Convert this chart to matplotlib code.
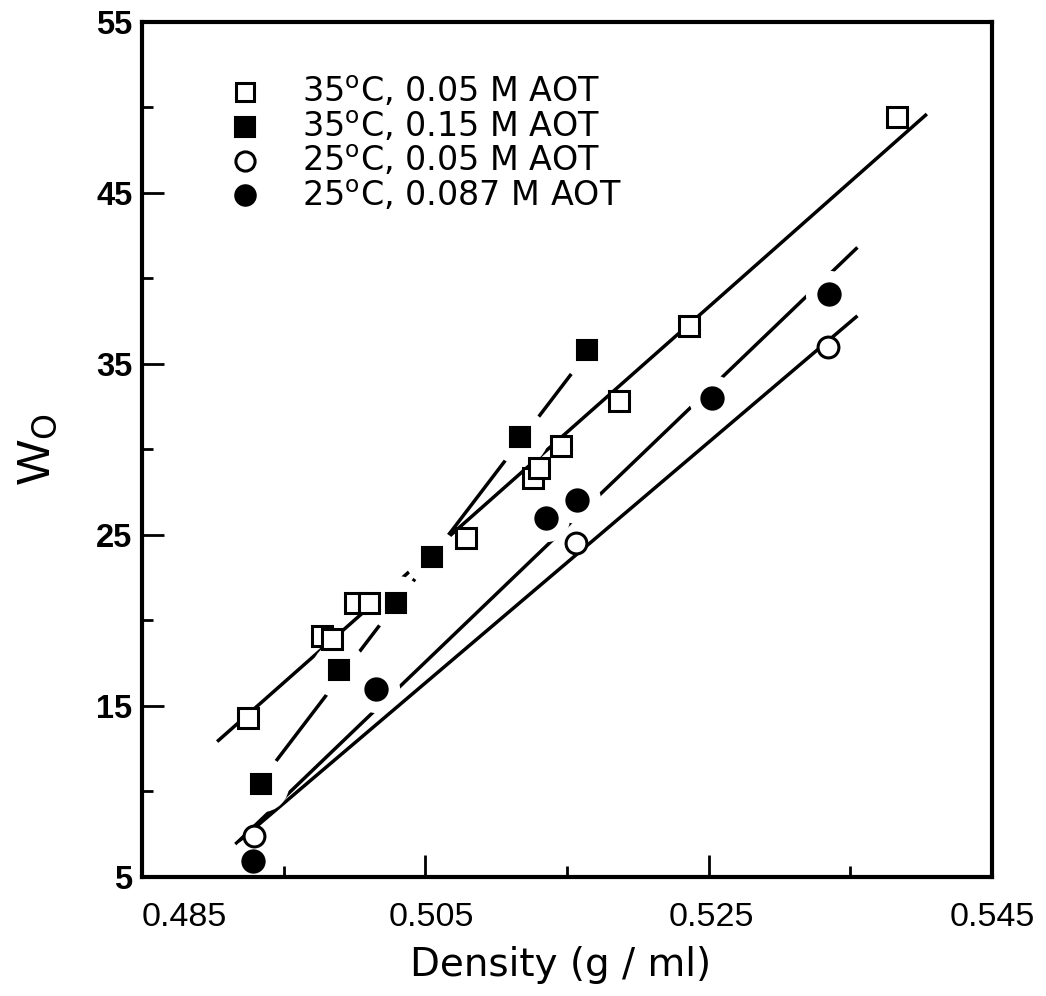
import matplotlib
matplotlib.use("Agg")
import matplotlib.pyplot as plt
import matplotlib.transforms as mtransforms

plt.rcParams['font.family'] = ['Liberation Sans', 'DejaVu Sans']
plt.rcParams['mathtext.fontset'] = 'custom'
plt.rcParams['mathtext.rm'] = 'DejaVu Sans'
plt.rcParams['mathtext.it'] = 'DejaVu Sans:italic'

# data
labels = [r'35$^{\mathrm{o}}$C, 0.05 M AOT', r'35$^{\mathrm{o}}$C, 0.15 M AOT',
          r'25$^{\mathrm{o}}$C, 0.05 M AOT', r'25$^{\mathrm{o}}$C, 0.087 M AOT']

sq_open_x = [0.4925, 0.4977, 0.4984, 0.5000, 0.5010, 0.5079, 0.5126, 0.5130, 0.5146, 0.5187, 0.5236, 0.5383]
sq_open_y = [14.3, 19.1, 18.9, 21.0, 21.0, 24.8, 28.3, 28.9, 30.2, 32.8, 37.2, 49.4]

sq_fill_x = [0.4934, 0.4989, 0.5029, 0.5055, 0.5117, 0.5164]
sq_fill_y = [10.4, 17.1, 21.0, 23.7, 30.7, 35.8]

ci_open_x = [0.4929, 0.5156, 0.5334]
ci_open_y = [7.4, 24.5, 36.0]

ci_fill_x = [0.4928, 0.5015, 0.5135, 0.5157, 0.5252, 0.5335]
ci_fill_y = [5.9, 16.0, 26.0, 27.0, 33.0, 39.1]

# fitted lines (end points)
fit_sq_open_x, fit_sq_open_y = [0.4903, 0.5404], [12.9, 49.6]
fit_sq_fill_x, fit_sq_fill_y = [0.4944, 0.5153], [11.7, 34.4]
fit_ci_open_x, fit_ci_open_y = [0.4916, 0.5355], [6.9, 37.8]
fit_ci_fill_x, fit_ci_fill_y = [0.4916, 0.5355], [6.9, 41.8]

xticks = [0.485, 0.505, 0.525, 0.545]
xminor = [0.495, 0.515, 0.535]
yticks = [5, 15, 25, 35, 45, 55]
yminor = [10, 20, 30, 40, 50]

fig = plt.figure(figsize=(10.46, 9.96), dpi=100)
ax = fig.add_axes([0.1358, 0.1198, 0.8126, 0.8584])

lw = 2.5
for fx, fy in [(fit_sq_open_x, fit_sq_open_y), (fit_sq_fill_x, fit_sq_fill_y),
               (fit_ci_open_x, fit_ci_open_y), (fit_ci_fill_x, fit_ci_fill_y)]:
    ax.plot(fx, fy, color='black', lw=lw, solid_capstyle='butt', zorder=1)

# white halos around filled markers (lines break there)
ax.plot(sq_fill_x, sq_fill_y, ls='none', marker='o', ms=40, mfc='white', mec='none', zorder=2)
ax.plot(ci_fill_x, ci_fill_y, ls='none', marker='o', ms=34, mfc='white', mec='none', zorder=2)

styles = [
    dict(marker='s', ms=14.2, mfc='white', mec='black', mew=2.2),
    dict(marker='s', ms=15, mfc='black', mec='black', mew=1.5),
    dict(marker='o', ms=15, mfc='white', mec='black', mew=2.2),
    dict(marker='o', ms=16, mfc='black', mec='black', mew=1.5),
]
series = [(sq_open_x, sq_open_y), (sq_fill_x, sq_fill_y),
          (ci_open_x, ci_open_y), (ci_fill_x, ci_fill_y)]
for (sx, sy), st in zip(series, styles):
    ax.plot(sx, sy, ls='none', zorder=3, **st)

# legend drawn by hand
leg_y = [0.918, 0.877, 0.837, 0.797]
for lab, st, ly in zip(labels, styles, leg_y):
    st2 = dict(st)
    st2['ms'] = st['ms'] * 0.92
    ax.plot([0.121], [ly], transform=ax.transAxes, ls='none', zorder=4, **st2)
    ax.text(0.188, ly, lab, transform=ax.transAxes, fontsize=24, va='center', ha='left',
            family='DejaVu Sans')

ax.set_xlim(0.485, 0.545)
ax.set_ylim(5, 55)
ax.set_xticks(xticks)
ax.set_xticks(xminor, minor=True)
ax.set_xticklabels(['0.485', '0.505', '0.525', '0.545'])
ax.set_yticks(yticks)
ax.set_yticks(yminor, minor=True)
ax.set_yticklabels([str(v) for v in yticks])

ax.tick_params(which='major', direction='in', length=16, width=2)
ax.tick_params(which='minor', direction='in', length=8, width=2)
ax.tick_params(axis='x', which='major', pad=18, labelsize=24.5)
ax.tick_params(axis='y', which='major', pad=7, labelsize=23.5)
for lab in ax.get_yticklabels():
    lab.set_fontweight('bold')

# tick labels sit a little right of their ticks in the original
x_shift = [42, 6, 3, 0]
for lab, dx in zip(ax.get_xticklabels(), x_shift):
    lab.set_transform(lab.get_transform() + mtransforms.ScaledTranslation(dx / 100, 0, fig.dpi_scale_trans))

for sp in ax.spines.values():
    sp.set_linewidth(3)

ax.set_xlabel('Density (g / ml)', fontsize=28, family='DejaVu Sans')
ax.xaxis.set_label_coords(0.4924, -0.103)
ax.xaxis.label.set_va('center')
ax.set_ylabel(r'W$_{\mathrm{O}}$', fontsize=34)
ax.yaxis.set_label_coords(-0.1235, 0.50)
ax.yaxis.label.set_va('center')

fig.savefig('out.png', dpi=100)
